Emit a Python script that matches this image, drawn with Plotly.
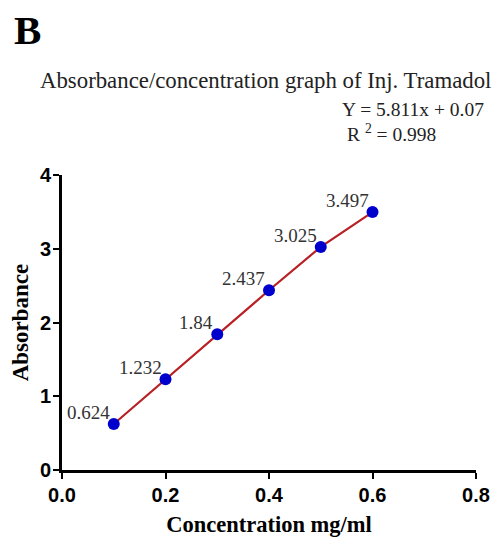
import plotly.graph_objects as go

concentration = [0.1, 0.2, 0.3, 0.4, 0.5, 0.6]
absorbance = [0.624, 1.232, 1.84, 2.437, 3.025, 3.497]
point_labels = ["0.624", "1.232", "1.84", "2.437", "3.025", "3.497"]
x_ticks = [0.0, 0.2, 0.4, 0.6, 0.8]
x_tick_labels = ["0.0", "0.2", "0.4", "0.6", "0.8"]
y_ticks = [0, 1, 2, 3, 4]
y_tick_labels = ["0", "1", "2", "3", "4"]

W, H = 494, 537
L, R, T, B = 62, 18, 175, 67
pw, ph = W - L - R, H - T - B

def px(x):
    return (x - L) / pw

def py(y):
    return (H - B - y) / ph

serif = "Liberation Serif"

fig = go.Figure()
fig.add_trace(go.Scatter(
    x=concentration, y=absorbance, mode="lines+markers",
    line=dict(color="#B82025", width=2.2),
    marker=dict(color="#0000CC", size=12),
    cliponaxis=False, showlegend=False,
))

annotations = [
    dict(text=lab, x=xv, y=yv, xref="x", yref="y", xanchor="right", yanchor="bottom",
         xshift=-2, yshift=-1, showarrow=False,
         font=dict(family=serif, size=19, color="#333"))
    for xv, yv, lab in zip(concentration, absorbance, point_labels)
]

annotations += [
    dict(text="<b>B</b>", x=px(12), y=py(5), xref="paper", yref="paper",
         xanchor="left", yanchor="top", showarrow=False,
         font=dict(family=serif, size=41, color="black")),
    dict(text="Absorbance/concentration graph of Inj. Tramadol", x=px(38), y=py(95),
         xref="paper", yref="paper", xanchor="left", yanchor="bottom", showarrow=False,
         font=dict(family=serif, size=22.8, color="#222")),
    dict(text="Y = 5.811x + 0.07", x=px(486), y=py(122),
         xref="paper", yref="paper", xanchor="right", yanchor="bottom", showarrow=False,
         font=dict(family=serif, size=19.5, color="#222")),
    dict(text="R <sup>2</sup> = 0.998", x=px(345), y=py(147),
         xref="paper", yref="paper", xanchor="left", yanchor="bottom", showarrow=False,
         font=dict(family=serif, size=19.5, color="#222")),
]

axis_common = dict(
    showline=True, linecolor="black", linewidth=3,
    ticks="outside", ticklen=6, tickwidth=2, tickcolor="black",
    showgrid=False, zeroline=False, automargin=False,
    tickfont=dict(family="Liberation Sans", size=20, color="black", weight="bold"),
)

fig.update_layout(
    width=W, height=H,
    margin=dict(l=L, r=R, t=T, b=B),
    paper_bgcolor="white", plot_bgcolor="white",
    xaxis=dict(range=[0, 0.8], tickvals=x_ticks, ticktext=x_tick_labels,
               ticklabelstandoff=-1,
               title=dict(text="<b>Concentration mg/ml</b>",
                          font=dict(family=serif, size=22.5, color="black"), standoff=12),
               **axis_common),
    yaxis=dict(range=[0, 4], tickvals=y_ticks, ticktext=y_tick_labels,
               ticklabelstandoff=-2,
               title=dict(text="<b>Absorbance</b>",
                          font=dict(family=serif, size=23, color="black"), standoff=5),
               **axis_common),
    annotations=annotations,
)

fig.write_html("out.html")
